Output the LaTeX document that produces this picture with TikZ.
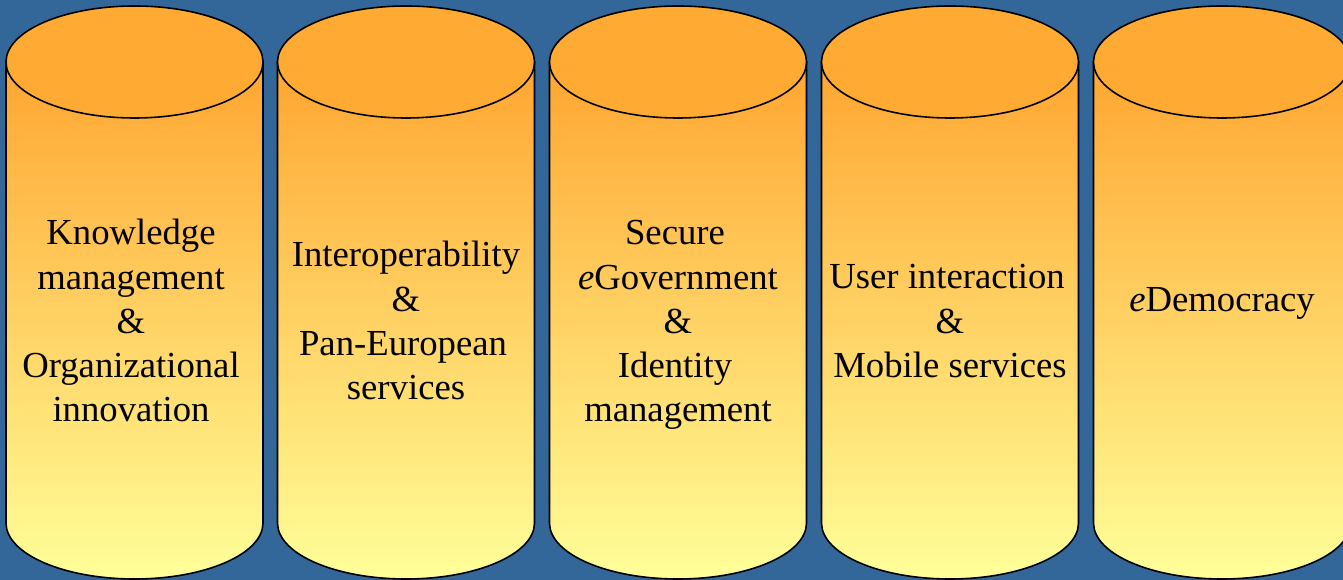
\documentclass[tikz,border=0pt]{standalone}
\usepackage{fontspec}
\setmainfont{Liberation Serif}
\definecolor{bgblue}{RGB}{51,102,153}
\definecolor{capor}{RGB}{255,170,51}
\definecolor{bodytop}{RGB}{255,165,48}
\definecolor{bodybot}{RGB}{255,255,153}
\tikzset{
  cylbody/.style={draw=black,line width=1.6pt,top color=bodytop,bottom color=bodybot},
  cyltop/.style={draw=black,line width=1.6pt,fill=capor},
  lbl/.style={anchor=base,inner sep=0pt,font=\fontsize{36.7}{44.3}\selectfont,text=black}
}
\begin{document}
\begin{tikzpicture}[x=1pt,y=1pt]
\useasboundingbox (0,0) rectangle (1343,580);
\fill[bgblue] (0,0) rectangle (1343,580);
\begin{scope}
\clip (0,0) rectangle (1343,580);
\foreach \cx in {134.5,406,678,950,1222}{
  \path[cylbody] (\cx-128.5,518) -- (\cx-128.5,57)
     arc[start angle=180,end angle=360,x radius=128.5pt,y radius=56pt]
     -- (\cx+128.5,518) -- cycle;
  \path[cyltop] (\cx,518) ellipse[x radius=128.5pt,y radius=56pt];
}
\end{scope}
% cylinder 1
\node[lbl] (a1) at (131,335) {Knowledge};
\node[lbl] (a2) at (131,290.75) {management};
\node[lbl] (a3) at (131,246.5) {\&};
\node[lbl] (a4) at (131,202.25) {Organizational};
\node[lbl] (a5) at (131,158) {innovation};
% cylinder 2
\node[lbl] (b1) at (406,313) {Interoperability};
\node[lbl] (b2) at (406,268.7) {\&};
\node[lbl] (b3) at (403,224.4) {Pan-European};
\node[lbl] (b4) at (406,180.1) {services};
% cylinder 3
\node[lbl] (c1) at (675,335) {Secure};
\node[lbl] (c2) at (678,290.75) {\textit{e}Government};
\node[lbl] (c3) at (678,246.5) {\&};
\node[lbl] (c4) at (675,202.25) {Identity};
\node[lbl] (c5) at (678,158) {management};
% cylinder 4
\node[lbl] (d1) at (947,291) {User interaction};
\node[lbl] (d2) at (950,246.7) {\&};
\node[lbl] (d3) at (950,202.4) {Mobile services};
% cylinder 5
\node[lbl] (e1) at (1222,268) {\textit{e}Democracy};
\end{tikzpicture}
\end{document}
